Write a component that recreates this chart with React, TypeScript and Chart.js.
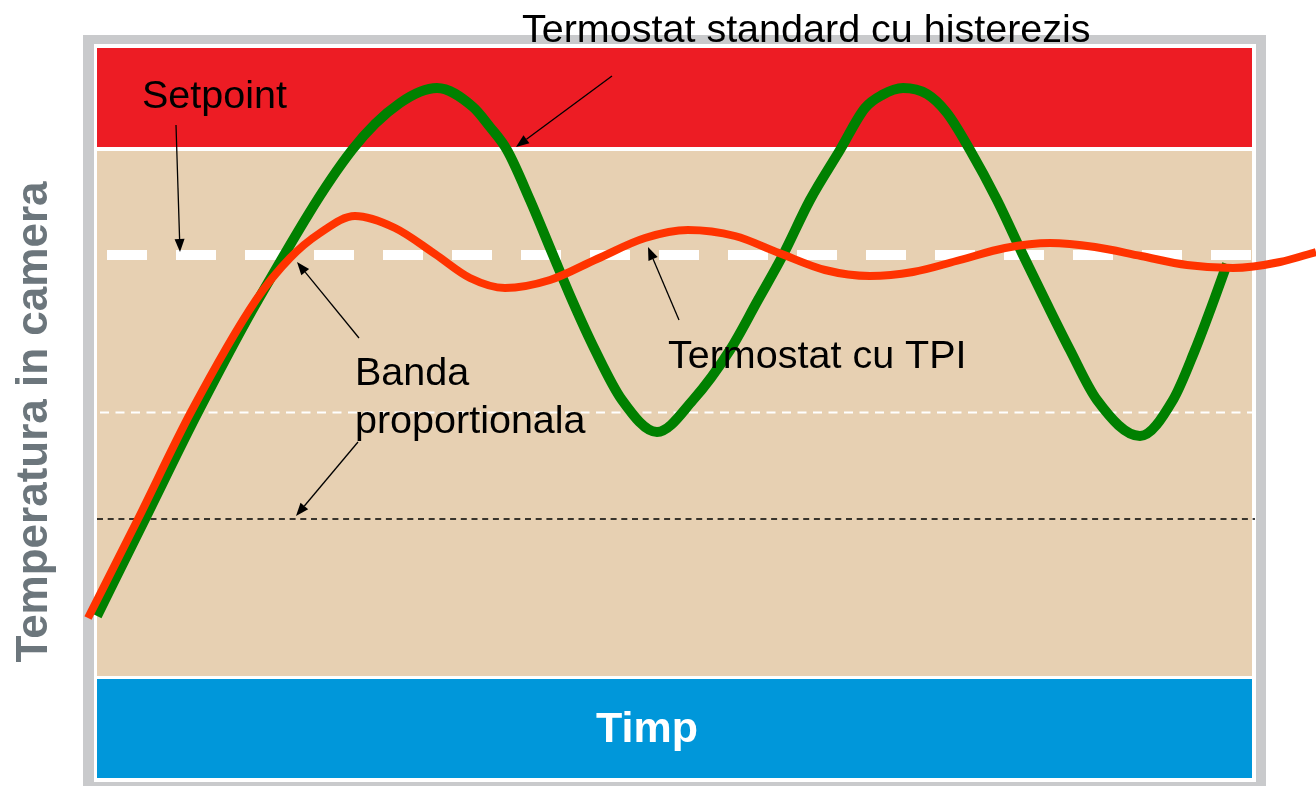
import React, { useEffect, useRef } from "react";
import { Chart, registerables } from "chart.js";

Chart.register(...registerables);

// ---- Data (time units, temperature units) ----
const greenTime = [0, 4.8, 10.1, 16.1, 25.5, 30.3, 34, 37.6, 39.3, 41, 43.3, 45.6, 47.5, 49.8, 52.5, 56, 59.6, 63.3, 66.1, 68.6, 71.3, 74.3, 76.8, 78.5, 80.6, 83, 85, 87.3, 90, 92.6, 94.8, 97.3, 100, 104.3, 107.6, 109.8, 111.7, 113];
const greenTemp = [16.2, 25.9, 36.6, 47.8, 62.8, 67.5, 69, 67.1, 65.1, 62.8, 57.8, 52.3, 47.8, 42.8, 37.8, 34.6, 37.8, 42.8, 47.8, 52.3, 57.8, 62.8, 67, 68.3, 69, 68.4, 66.5, 62.8, 57.8, 52.3, 47.8, 42.8, 37.8, 34.2, 37.8, 42.8, 47.8, 51.4];

const orangeTime = [-0.9, 4.1, 9.4, 15.9, 19.3, 22.3, 25.8, 29.8, 33.8, 37.3, 40.8, 45.3, 50, 54.8, 59.1, 63.8, 68.2, 72.8, 77.3, 81.6, 86.3, 90.8, 95.3, 99.8, 104.4, 109, 113.6, 118.3, 121.9];
const orangeTemp = [16, 25.9, 36.6, 47.8, 52, 54.5, 56.2, 55, 52.4, 50, 49, 49.8, 51.9, 54, 54.8, 54.2, 52.5, 50.8, 50.2, 50.6, 51.8, 53, 53.5, 53.1, 52.2, 51.3, 51, 51.6, 52.6];

const setpointLevel = 52.3;
const bandUpperLevel = 36.55;
const bandLowerLevel = 25.9;

// visible axis range (whole canvas) and plot box extents
const axisTimeMin = -9.7;
const axisTimeMax = 121.9;
const plotStart = 0;
const plotEnd = 115.5;
const tempMin = 0;
const tempMax = 73;

// zones: above setpoint band, proportional region, time axis strip
const zoneTop = [73, 62.7, 9.9];
const zoneBottom = [63.1, 10.2, 0];
const zoneColors = ["#ed1c24", "#e7d0b2", "#0097da"];

const yTitle = "Temperatura in camera";
const xTitle = "Timp";

const labelTexts = ["Termostat standard cu histerezis", "Setpoint", "Banda", "proportionala", "Termostat cu TPI"];
const labelTime = [42.5, 4.5, 25.8, 25.8, 57.1];
const labelTemp = [73.6, 67, 39.3, 34.5, 41];

const arrowFromTime = [7.9, 51.5, 26.2, 26.1, 58.2];
const arrowFromTemp = [65.3, 70.2, 44, 33.6, 45.8];
const arrowToTime = [8.3, 41.9, 20, 19.9, 55.1];
const arrowToTemp = [52.6, 63.1, 51.6, 26.2, 53.1];

const toPoints = (xs: number[], ys: number[]) => xs.map((v, i) => ({ x: v, y: ys[i] }));

const FONT = "'Liberation Sans', Arial, 'DejaVu Sans', sans-serif";

const decorPlugin = {
  id: "decor",
  beforeDatasetsDraw(chart: any) {
    const { ctx } = chart;
    const x = chart.scales.x;
    const y = chart.scales.y;
    const l = x.getPixelForValue(plotStart);
    const r = x.getPixelForValue(plotEnd);
    const t0 = y.getPixelForValue(tempMax);
    const b0 = y.getPixelForValue(tempMin);
    ctx.save();
    // frame
    ctx.fillStyle = "#c9cacc";
    ctx.fillRect(l - 14, t0 - 13, r - l + 28, b0 - t0 + 30);
    ctx.fillStyle = "#ffffff";
    ctx.fillRect(l - 3, t0 - 4, r - l + 7, b0 - t0 + 8);
    for (let i = 0; i < zoneTop.length; i++) {
      const t = y.getPixelForValue(zoneTop[i]);
      const b = y.getPixelForValue(zoneBottom[i]);
      ctx.fillStyle = zoneColors[i];
      ctx.fillRect(l, t, r - l, b - t);
    }
    ctx.restore();
  },
  afterDatasetsDraw(chart: any) {
    const { ctx } = chart;
    const x = chart.scales.x;
    const y = chart.scales.y;
    ctx.save();
    // arrows
    ctx.strokeStyle = "#000";
    ctx.fillStyle = "#000";
    ctx.lineWidth = 1.3;
    for (let i = 0; i < arrowFromTime.length; i++) {
      const x0 = x.getPixelForValue(arrowFromTime[i]);
      const y0 = y.getPixelForValue(arrowFromTemp[i]);
      const x1 = x.getPixelForValue(arrowToTime[i]);
      const y1 = y.getPixelForValue(arrowToTemp[i]);
      const ang = Math.atan2(y1 - y0, x1 - x0);
      const hl = 13;
      const hw = 5;
      const bx = x1 - hl * Math.cos(ang);
      const by = y1 - hl * Math.sin(ang);
      ctx.beginPath();
      ctx.moveTo(x0, y0);
      ctx.lineTo(bx, by);
      ctx.stroke();
      ctx.beginPath();
      ctx.moveTo(x1, y1);
      ctx.lineTo(bx + hw * Math.sin(ang), by - hw * Math.cos(ang));
      ctx.lineTo(bx - hw * Math.sin(ang), by + hw * Math.cos(ang));
      ctx.closePath();
      ctx.fill();
    }
    // labels
    ctx.font = `39.5px ${FONT}`;
    ctx.textAlign = "left";
    ctx.textBaseline = "alphabetic";
    for (let i = 0; i < labelTexts.length; i++) {
      ctx.fillText(labelTexts[i], x.getPixelForValue(labelTime[i]), y.getPixelForValue(labelTemp[i]));
    }
    // x title
    ctx.fillStyle = "#ffffff";
    ctx.font = `bold 43px ${FONT}`;
    ctx.textAlign = "center";
    ctx.fillText(xTitle, x.getPixelForValue(55), y.getPixelForValue(3.6));
    // y title
    ctx.fillStyle = "#6c767c";
    ctx.font = `bold 44px ${FONT}`;
    ctx.translate(47, y.getPixelForValue(35.6));
    ctx.rotate(-Math.PI / 2);
    ctx.textAlign = "center";
    ctx.fillText(yTitle, 0, 0);
    ctx.restore();
  },
};

export default function App() {
  const ref = useRef<HTMLCanvasElement | null>(null);
  useEffect(() => {
    if (!ref.current) return;
    const chart = new Chart(ref.current, {
      type: "line",
      data: {
        datasets: [
          {
            label: "Termostat cu TPI",
            data: toPoints(orangeTime, orangeTemp),
            borderColor: "#ff3300",
            borderWidth: 8,
            pointRadius: 0,
            cubicInterpolationMode: "monotone",
            borderCapStyle: "butt",
            borderJoinStyle: "round",
            clip: false,
            order: 0,
          } as any,
          {
            label: "Termostat standard cu histerezis",
            data: toPoints(greenTime, greenTemp),
            borderColor: "#008000",
            borderWidth: 10,
            pointRadius: 0,
            cubicInterpolationMode: "monotone",
            borderCapStyle: "butt",
            borderJoinStyle: "round",
            clip: false,
            order: 1,
          } as any,
          {
            label: "Setpoint",
            data: toPoints([1, plotEnd], [setpointLevel, setpointLevel]),
            borderColor: "#ffffff",
            borderWidth: 10,
            borderDash: [40, 29],
            pointRadius: 0,
            borderCapStyle: "butt",
            order: 2,
          } as any,
          {
            label: "Banda sus",
            data: toPoints([0.3, plotEnd], [bandUpperLevel, bandUpperLevel]),
            borderColor: "#ffffff",
            borderWidth: 2,
            borderDash: [9, 6.5],
            pointRadius: 0,
            borderCapStyle: "butt",
            order: 3,
          } as any,
          {
            label: "Banda jos",
            data: toPoints([0, plotEnd + 0.3], [bandLowerLevel, bandLowerLevel]),
            borderColor: "#000000",
            borderWidth: 1.3,
            borderDash: [6, 4.7],
            pointRadius: 0,
            borderCapStyle: "butt",
            order: 4,
          } as any,
        ],
      },
      options: {
        responsive: false,
        animation: false,
        devicePixelRatio: 1,
        layout: { padding: { left: 0, right: 0, top: 48, bottom: 8 } },
        scales: {
          x: { type: "linear", display: false, min: axisTimeMin, max: axisTimeMax },
          y: { type: "linear", display: false, min: tempMin, max: tempMax },
        },
        plugins: { legend: { display: false }, tooltip: { enabled: false }, title: { display: false } },
        events: [],
      },
      plugins: [decorPlugin],
    });
    return () => chart.destroy();
  }, []);
  return (
    <div style={{ position: "fixed", left: 0, top: 0, width: 1316, height: 786, background: "#fff" }}>
      <canvas ref={ref} width={1316} height={786} style={{ display: "block", width: 1316, height: 786 }} />
    </div>
  );
}
